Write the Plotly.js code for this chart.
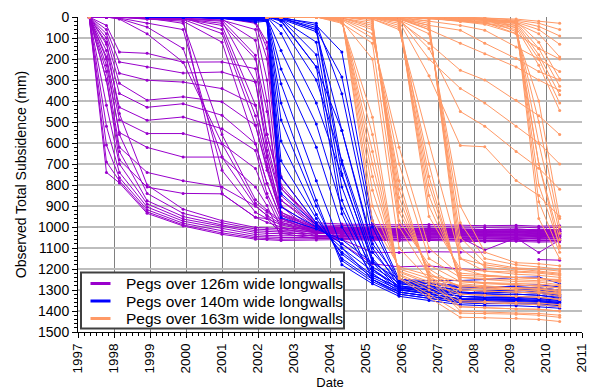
<!DOCTYPE html>
<html><head><meta charset="utf-8">
<script src="https://cdn.plot.ly/plotly-3.0.1.min.js"></script>
<style>html,body{margin:0;padding:0;background:#fff}#chart{width:591px;height:391px}</style>
</head><body><div id="chart"></div>
<script>
// Survey dates (decimal years)
const purpleDates = [1997.31,1997.79,1998.15,1998.92,1999.92,2001.0,2001.93,2002.25,2002.64,2003.62,2004.33,2005.18,2005.92,2006.75,2007.62,2008.3,2009.17,2009.8,2010.38];
const blueDates = [1998.92,1999.92,2001.0,2001.93,2002.25,2002.64,2003.62,2004.33,2005.18,2005.92,2006.75,2007.62,2008.3,2009.17,2009.8,2010.38];
const orangeDates = [2002.25,2002.64,2003.62,2004.33,2005.18,2005.92,2006.75,2007.62,2008.3,2009.17,2009.8,2010.38];
const orangeEarlyDate = [1997.31];
const orangeEarlyValue = [0];

// Pegs over 126m wide longwalls (mm)
const purplePegs = [
[0,740,790,935,995,1035,1058,1060,1064,1062,1060,1063,1066,1064,1068,1070,1068,1072,1070],
[0,690,780,928,990,1028,1052,1055,1058,1056,1055,1058,1060,1058,1062,1064,1062,1066,1064],
[0,610,765,918,982,1018,1045,1048,1050,1048,1047,1050,1052,1050,1054,1056,1054,1058,1056],
[0,520,740,905,972,1008,1036,1040,1042,1040,1040,1042,1044,1042,1046,1048,1046,1050,1048],
[0,420,700,890,962,998,1026,1030,1032,1030,1030,1032,1034,1032,1036,1038,1036,1040,1038],
[0,300,640,875,950,990,1018,1022,1024,1022,1022,1024,1026,1024,1028,1030,1028,1032,1030],
[0,200,560,840,935,980,1010,1014,1016,1014,1014,1016,1018,1016,1020,1022,1020,1024,1022],
[0,120,460,800,915,970,1002,1006,1008,1006,1006,1008,1010,1008,1012,1014,1012,1016,1014],
[0,40,167,173,215,214,246,560,816,995,1000,1004,1008,1006,1010,1012,1010,1014,1012],
[0,60,214,238,267,262,310,600,873,1005,1010,1012,1016,1014,1018,1020,1018,1022,1020],
[0,80,268,301,310,341,420,659,930,1015,1018,1020,1024,1022,1026,1028,1026,1030,1028],
[0,100,316,396,380,404,516,730,945,1020,1024,1026,1030,1028,1032,1034,1032,1036,1034],
[0,130,364,430,413,468,603,793,960,1025,1030,1032,1036,1034,1038,1040,1038,1042,1040],
[0,160,430,492,476,532,636,841,978,1030,1034,1036,1040,1038,1042,1044,1042,1046,1044],
[0,190,490,555,555,603,722,860,1006,1040,1042,1044,1048,1046,1050,1052,1050,1054,1052],
[0,230,550,621,667,667,810,898,1050,1050,1052,1054,1058,1056,1060,1062,1060,1064,1062],
[0,260,620,740,780,810,900,945,1020,1045,1046,1048,1050,1048,1052,1054,1052,1056,1054],
[0,300,680,810,840,842,954,960,1030,1055,1056,1058,1060,1058,1062,1064,1062,1066,1064],
[0,0,0,10,14,842,954,978,1000,1030,1032,1034,1036,1034,1038,1040,1038,1042,1040],
[0,0,5,30,60,730,930,960,990,1025,1028,1030,1032,1030,1034,1036,1034,1038,1036],
[0,0,8,48,150,667,900,945,985,1020,1022,1024,1026,1024,1028,1030,1028,1032,1030],
[0,0,10,80,215,603,887,930,978,1015,1018,1020,1022,1020,1024,1026,1024,1028,1026],
[0,0,0,5,30,560,870,920,970,1012,1014,1016,1018,1016,1020,1022,1020,1024,1022],
[0,0,0,5,10,40,420,669,930,1000,1004,1006,1008,1006,1010,1012,1010,1014,1012],
[0,0,0,8,12,79,516,716,945,1005,1008,1010,1012,1010,1014,1016,1014,1018,1016],
[0,0,2,10,20,120,603,793,960,1010,1014,1016,1018,1016,1020,1022,1020,1024,1022],
[0,0,0,5,10,20,310,636,873,990,994,996,998,996,1000,1002,1000,1004,1002],
[0,0,0,3,8,15,182,560,816,980,986,988,990,988,992,994,992,996,994],
[0,0,0,2,5,60,470,700,940,1003,1006,1008,1010,1008,1012,1014,1012,1016,1014],
[0,0,0,0,0,10,111,400,960,1030,1034,1036,1040,1038,1042,1044,1042,1046,1044],
[0,0,0,0,5,15,60,300,900,1010,1014,1016,1018,1016,1020,1022,1020,1024,1022],
[0,0,0,0,0,5,30,200,850,1000,1004,1006,1010,1008,1012,1014,1012,1016,1014],
[0,0,0,0,0,5,20,150,800,990,1060,1120,1122,1118,1120,1120,null,null,null],
[0,0,0,0,0,5,25,120,760,985,1080,1175,1190,1185,1200,1205,null,null,null],
[0,0,0,5,10,30,200,450,900,1040,1045,1048,1050,1048,1050,1110,1052,1122,1062],
[null,null,null,null,null,null,null,null,null,null,null,null,null,null,null,null,null,1155,1158]
];

// Pegs over 140m wide longwalls (mm)
const bluePegs = [
[0,0,5,15,20,955,1010,1060,1170,1250,1265,1280,1285,1285,1290,1300],
[0,0,8,20,15,905,1000,1080,1190,1265,1280,1300,1305,1300,1310,1320],
[0,0,5,25,20,840,990,1100,1210,1280,1295,1315,1320,1320,1325,1335],
[0,0,3,10,10,765,980,1120,1230,1290,1300,1330,1335,1335,1340,1350],
[0,0,5,15,15,685,960,1130,1240,1300,1315,1345,1345,1345,1350,1360],
[0,0,2,10,10,590,940,1150,1250,1310,1330,1355,1355,1355,1360,1370],
[0,0,0,5,5,490,900,1160,1260,1320,1340,1360,1365,1365,1370,1380],
[0,0,4,12,10,410,873,1180,1270,1330,1350,1370,1375,1375,1380,1387],
[0,0,0,5,5,318,780,1100,1250,1310,1330,1350,1355,1350,1355,1365],
[0,0,0,0,0,248,620,1000,1230,1290,1310,1330,1335,1335,1340,1350],
[0,0,2,8,5,160,510,912,1200,1285,1300,1320,1325,1320,1325,1340],
[0,0,0,0,0,78,410,755,1160,1270,1290,1310,1315,1310,1315,1330],
[0,0,0,0,0,40,300,683,1120,1260,1280,1300,1305,1300,1300,1310],
[0,0,0,0,0,20,238,540,1080,1250,1270,1290,1290,1285,1290,1300],
[0,0,0,0,0,0,40,167,970,1250,1255,1255,1250,1240,1238,1270],
[0,0,0,0,0,5,60,286,1000,1260,1270,1285,1290,1280,1275,1285],
[0,0,0,0,0,5,30,365,1050,1270,1285,1300,1305,1300,1300,1310],
[0,0,0,0,0,10,70,540,1100,1280,1300,1310,1315,1310,1315,1325],
[0,0,0,0,0,5,50,700,1150,1290,1310,1330,1335,1330,1335,1345],
[0,0,0,0,0,5,60,747,1170,1295,1320,1340,1340,1340,1345,1355],
[0,0,0,0,0,10,120,810,1200,1300,1320,1345,1350,1345,1350,1360],
[0,0,0,0,0,10,180,873,1220,1310,1330,1350,1355,1350,1355,1365],
[0,0,0,0,0,15,238,937,1250,1320,1340,1360,1365,1360,1365,1375]
];

// Pegs over 163m wide longwalls (mm)
const orangePegs = [
[0,0,0,0,970,1190,1230,1260,1265,1270,1272,1280],
[0,0,0,5,900,1200,1245,1280,1285,1290,1290,1300],
[0,0,0,5,825,1210,1260,1300,1305,1310,1312,1320],
[0,0,0,10,760,1215,1270,1320,1325,1330,1335,1345],
[0,0,0,10,700,1225,1285,1357,1360,1365,1370,1380],
[0,0,0,15,640,1230,1300,1380,1385,1390,1392,1400],
[0,0,0,20,560,1240,1320,1410,1412,1415,1420,1430],
[0,0,0,25,477,1245,1335,1430,1432,1435,1440,1450],
[0,0,0,20,200,1100,1250,1300,1305,1310,1315,1330],
[0,0,0,30,125,1000,1230,1280,1285,1290,1295,1310],
[0,0,0,0,10,970,1180,1260,1270,1275,1280,1290],
[0,0,0,0,20,930,1200,1290,1295,1300,1305,1315],
[0,0,0,5,30,900,1215,1320,1325,1330,1335,1345],
[0,0,0,5,40,860,1230,1350,1355,1360,1362,1370],
[0,0,0,5,50,820,1240,1380,1385,1390,1392,1400],
[0,0,0,10,60,780,1250,1400,1405,1410,1412,1420],
[0,0,0,10,80,700,1150,1240,1245,1250,1255,1260],
[0,0,0,15,100,620,1100,1230,1235,1240,1245,1250],
[0,0,0,0,0,10,950,1200,1210,1215,1220,1230],
[0,0,0,0,0,20,900,1220,1230,1240,1245,1255],
[0,0,0,0,5,30,850,1240,1250,1260,1262,1275],
[0,0,0,0,5,40,800,1255,1265,1275,1280,1290],
[0,0,0,0,5,15,760,1270,1280,1290,1295,1305],
[0,0,0,0,10,50,700,1280,1290,1300,1305,1320],
[0,0,0,0,10,60,600,1150,1180,1200,1210,1220],
[0,0,0,0,0,5,20,1200,1230,1240,1245,1255],
[0,0,0,0,0,5,30,1150,1210,1225,1230,1240],
[0,0,0,0,0,10,40,1100,1190,1210,1215,1225],
[0,0,0,0,0,10,50,1050,1170,1195,1200,1210],
[0,0,0,0,0,10,60,980,1150,1180,1190,1200],
[0,0,0,0,0,15,80,900,1120,1170,1175,1185],
[0,0,0,0,5,20,125,254,300,397,470,560],
[0,0,0,0,0,10,200,340,410,520,600,700],
[0,0,0,0,5,20,280,612,618,778,850,950],
[0,0,0,0,0,10,150,450,520,640,720,820],
[0,0,0,0,0,5,60,125,175,238,300,350],
[0,0,0,0,0,5,40,63,125,198,260,300],
[0,0,0,0,0,0,20,40,63,143,200,260],
[0,0,0,0,0,0,10,16,25,79,150,200],
[0,0,0,0,0,0,5,10,15,20,960,1150],
[0,0,0,0,0,0,5,10,15,25,880,1120],
[0,0,0,0,0,0,5,15,20,30,800,1090],
[0,0,0,0,0,0,5,15,25,40,700,1060],
[0,0,0,0,0,0,5,20,30,50,600,1030],
[0,0,0,0,0,0,5,20,30,60,500,1000],
[0,0,0,0,0,0,5,20,35,80,400,960],
[0,0,0,0,0,0,0,5,10,70,700,1100],
[0,0,0,0,0,0,0,5,10,20,120,295],
[0,0,0,0,0,0,0,5,10,25,150,330],
[0,0,0,0,0,0,0,5,10,30,180,370],
[0,0,0,0,0,0,0,5,15,40,200,410],
[0,0,0,0,0,0,0,10,15,50,230,445],
[0,0,0,0,0,0,0,0,5,10,20,30],
[0,0,0,0,0,0,0,0,5,15,30,60],
[0,0,0,0,0,0,0,5,10,20,45,90],
[0,0,0,0,0,0,0,5,10,25,60,130],
[0,0,0,0,0,0,0,5,15,30,80,190]
];

const seriesNames = ['Pegs over 126m wide longwalls','Pegs over 140m wide longwalls','Pegs over 163m wide longwalls'];

// Styles
const PURPLE = '#9900CC', BLUE = '#0000FF', ORANGE = '#FF9966';
const seriesColors = [PURPLE, BLUE, ORANGE];

function pegTraces(dates, pegs, color) {
  return pegs.map(p => ({
    x: dates, y: p, type: 'scatter', mode: 'lines+markers',
    line: {color: color, width: 1}, marker: {color: color, size: 3},
    showlegend: false, hoverinfo: 'skip'
  }));
}

const data = [].concat(
  pegTraces(purpleDates, purplePegs, PURPLE),
  pegTraces(blueDates, bluePegs, BLUE),
  pegTraces(orangeDates, orangePegs, ORANGE),
  [{x: orangeEarlyDate, y: orangeEarlyValue, type:'scatter', mode:'markers', marker:{color:ORANGE,size:4}, showlegend:false, hoverinfo:'skip'}]
);

// Legend box drawn in paper coordinates (plot area 504 x 315 px)
const PW = 504, PH = 315, PL = 78, PT = 17;
const px = v => (v - PL) / PW;
const py = v => (PT + PH - v) / PH;
const rowY = [283.5, 301, 318.5];
const shapes = [{
  type: 'rect', xref: 'paper', yref: 'paper', layer: 'above',
  x0: px(81), x1: px(344), y0: py(328.5), y1: py(272.5),
  fillcolor: '#fff', line: {color: '#404040', width: 2}
}];
const annotations = [];
seriesNames.forEach((name, i) => {
  shapes.push({
    type: 'line', xref: 'paper', yref: 'paper', layer: 'above',
    x0: px(90.5), x1: px(110.5), y0: py(rowY[i]), y1: py(rowY[i]),
    line: {color: seriesColors[i], width: 3}
  });
  annotations.push({
    xref: 'paper', yref: 'paper', x: px(124), y: py(rowY[i]),
    xanchor: 'left', yanchor: 'middle', showarrow: false,
    text: name, font: {size: 15.5, color: '#000'}
  });
});

const layout = {
  width: 591, height: 391,
  margin: {l: 78, r: 9, t: 17, b: 59},
  paper_bgcolor: '#fff', plot_bgcolor: '#fff',
  font: {family: 'Arial, "Liberation Sans", sans-serif', color: '#000', size: 13},
  showlegend: false,
  xaxis: {
    range: [1997, 2011], tick0: 1997, dtick: 1, tickangle: -90,
    ticks: 'outside', ticklen: 5, tickcolor: '#000',
    showline: true, linecolor: '#000', linewidth: 1,
    showgrid: true, gridcolor: '#808080', gridwidth: 1, zeroline: false,
    tickfont: {size: 13.5},
    minor: {dtick: 1/6, ticks: 'outside', ticklen: 3, tickcolor: '#000', showgrid: false},
    title: {text: 'Date', font: {size: 13}}
  },
  yaxis: {
    range: [1500, 0], tick0: 0, dtick: 100,
    ticks: 'outside', ticklen: 5, tickcolor: '#000',
    showline: true, linecolor: '#000', linewidth: 1,
    showgrid: true, gridcolor: '#BDBDBD', gridwidth: 2, zeroline: false,
    tickfont: {size: 14},
    minor: {dtick: 20, ticks: 'outside', ticklen: 3, tickcolor: '#000', showgrid: false},
    automargin: true,
    title: {text: 'Observed Total Subsidence (mm)', font: {size: 14}, standoff: 8}
  },
  shapes: shapes,
  annotations: annotations
};

Plotly.newPlot('chart', data, layout, {displayModeBar: false, staticPlot: true});
</script>
</body></html>
